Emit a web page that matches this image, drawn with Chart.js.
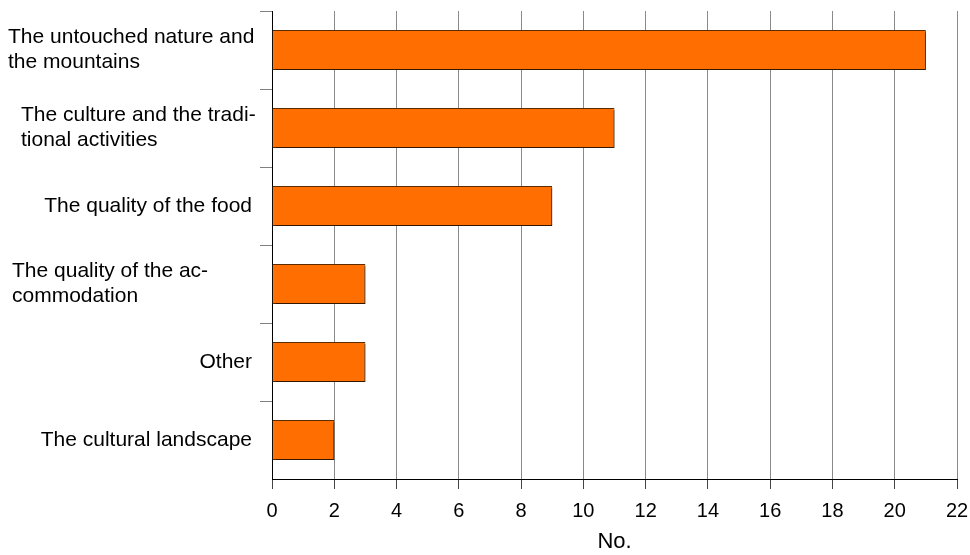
<!DOCTYPE html>
<html>
<head>
<meta charset="utf-8">
<script src="https://cdn.jsdelivr.net/npm/chart.js@4.4.1/dist/chart.umd.min.js"></script>
<style>
html, body { margin:0; padding:0; background:#fff; }
</style>
</head>
<body>
<canvas id="barChart" width="970" height="555"></canvas>
<script>
const categories = [
  ['The untouched nature and', 'the mountains'],
  ['The culture and the tradi-', 'tional activities'],
  ['The quality of the food'],
  ['The quality of the ac-', 'commodation'],
  ['Other'],
  ['The cultural landscape']
];
const counts = [21, 11, 9, 3, 3, 2];
const xTickValues = [0, 2, 4, 6, 8, 10, 12, 14, 16, 18, 20, 22];
const xTitle = 'No.';

const fontFamily = '"Liberation Sans", Arial, sans-serif';

// left edge of wrapped labels (lines are left aligned in the original)
const multiLeft = {0: 8, 1: 21, 3: 12};

const catLabels = {
  id: 'catLabels',
  afterDraw(chart) {
    const {ctx, scales: {y}} = chart;
    const lineH = 25;
    ctx.save();
    ctx.font = '21px ' + fontFamily;
    ctx.fillStyle = '#000';
    ctx.textBaseline = 'middle';
    categories.forEach((lines, i) => {
      const cy = y.getPixelForValue(i);
      const top = cy - (lines.length - 1) * lineH / 2;
      lines.forEach((t, k) => {
        if (lines.length > 1) {
          ctx.textAlign = 'left';
          ctx.fillText(t, multiLeft[i] ?? 10, top + k * lineH);
        } else {
          ctx.textAlign = 'right';
          ctx.fillText(t, y.right - 20, top + k * lineH);
        }
      });
    });
    ctx.restore();
  }
};

// thin grey drop shadow under the bars
const barShadow = {
  id: 'barShadow',
  beforeDatasetsDraw(chart) {
    const ctx = chart.ctx;
    ctx.save();
    ctx.shadowColor = 'rgba(0,0,0,0.45)';
    ctx.shadowOffsetX = 2;
    ctx.shadowOffsetY = 2;
    ctx.shadowBlur = 0;
  },
  afterDatasetsDraw(chart) { chart.ctx.restore(); }
};

new Chart(document.getElementById('barChart').getContext('2d'), {
  type: 'bar',
  data: {
    labels: categories,
    datasets: [{
      data: counts,
      backgroundColor: '#ff6e00',
      borderColor: '#5c2c00',
      borderWidth: 1,
      borderSkipped: false,
      categoryPercentage: 1,
      barPercentage: 0.51
    }]
  },
  options: {
    indexAxis: 'y',
    responsive: false,
    animation: false,
    devicePixelRatio: 1,
    layout: { padding: { left: 0, right: 13, top: 11, bottom: 0 } },
    plugins: { legend: { display: false }, tooltip: { enabled: false } },
    scales: {
      x: {
        min: 0, max: 22,
        afterBuildTicks: s => { s.ticks = xTickValues.map(v => ({ value: v })); },
        afterFit: s => { s.height = 76; s.paddingRight = 0; s.paddingLeft = 0; },
        grid: { color: '#8a8a8a', tickColor: '#444', tickLength: 10, lineWidth: 1 },
        border: { display: true, color: '#000', width: 1 },
        ticks: { color: '#000', padding: 10, font: { family: fontFamily, size: 20 } },
        title: { display: true, text: xTitle, color: '#000', padding: { top: 6, bottom: 0 },
                 font: { family: fontFamily, size: 22 } }
      },
      y: {
        afterFit: s => { s.width = 272; s.paddingTop = 0; s.paddingBottom = 0; },
        grid: {
          offset: true, drawOnChartArea: false, tickLength: 12,
          color: c => c.type === 'tick' ? '#808080' : 'rgba(0,0,0,0)'
        },
        border: { display: true, color: '#000', width: 1 },
        ticks: { color: 'rgba(0,0,0,0)', font: { family: fontFamily, size: 1 } }
      }
    }
  },
  plugins: [barShadow, catLabels]
});
</script>
</body>
</html>
